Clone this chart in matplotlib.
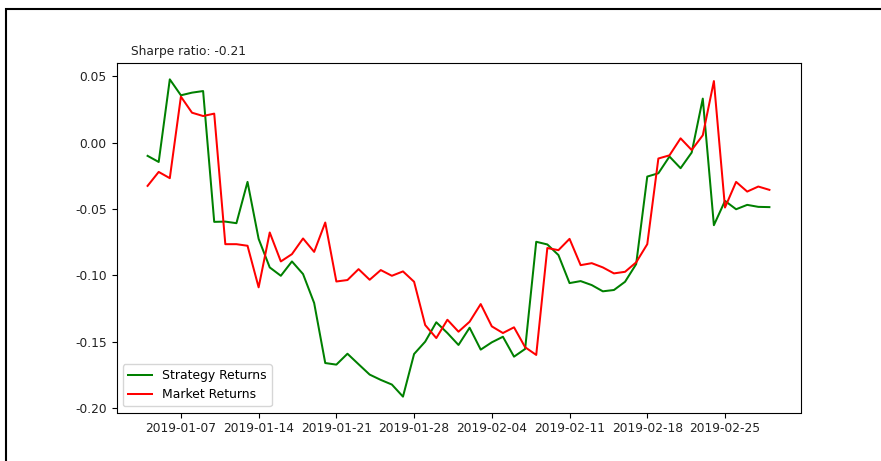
#
# plot.py
#   - Strategy vs market cumulative returns, Jan-Mar 2019.
#

import numpy as np
import pandas as pd
import matplotlib
matplotlib.use("Agg")
import matplotlib.pyplot as plt
import matplotlib.dates as mdates
from matplotlib.patches import Rectangle

dates = pd.date_range("2019-01-04", "2019-03-01", freq="D")

strategy_returns = [
    -0.0100, -0.0146, 0.0476, 0.0356, 0.0376, 0.0388, -0.0597, -0.0595,
    -0.0607, -0.0296, -0.0725, -0.0940, -0.1003, -0.0895, -0.0990, -0.1208,
    -0.1660, -0.1672, -0.1590, -0.1669, -0.1747, -0.1787, -0.1822, -0.1913,
    -0.1592, -0.1499, -0.1353, -0.1434, -0.1524, -0.1394, -0.1559, -0.1504,
    -0.1462, -0.1612, -0.1554, -0.0747, -0.0767, -0.0847, -0.1058, -0.1043,
    -0.1073, -0.1120, -0.1110, -0.1048, -0.0915, -0.0256, -0.0231, -0.0105,
    -0.0193, -0.0075, 0.0331, -0.0622, -0.0439, -0.0502, -0.0469, -0.0484,
    -0.0486,
]

market_returns = [
    -0.0326, -0.0221, -0.0268, 0.0346, 0.0225, 0.0200, 0.0218, -0.0765,
    -0.0765, -0.0777, -0.1090, -0.0677, -0.0895, -0.0840, -0.0722, -0.0823,
    -0.0602, -0.1046, -0.1035, -0.0953, -0.1033, -0.0960, -0.1003, -0.0970,
    -0.1048, -0.1374, -0.1472, -0.1334, -0.1424, -0.1349, -0.1216, -0.1384,
    -0.1434, -0.1391, -0.1541, -0.1599, -0.0794, -0.0810, -0.0725, -0.0923,
    -0.0908, -0.0940, -0.0985, -0.0973, -0.0902, -0.0765, -0.0120, -0.0096,
    0.0032, -0.0056, 0.0055, 0.0463, -0.0489, -0.0296, -0.0369, -0.0331,
    -0.0356,
]

sharpe_ratio = -0.21


def main():
    W, H = 881, 461
    fig = plt.figure(figsize=(W / 100, H / 100), dpi=100)
    ax = fig.add_axes([116.5 / W, 1 - 412.5 / H, 684 / W, 349 / H])

    ax.plot(dates, strategy_returns, color="green", lw=1.45, label="Strategy Returns")
    ax.plot(dates, market_returns, color="red", lw=1.45, label="Market Returns")

    ax.xaxis.set_major_locator(mdates.WeekdayLocator(byweekday=mdates.MO))
    ax.xaxis.set_major_formatter(mdates.DateFormatter("%Y-%m-%d"))
    ax.set_yticks([0.05, 0.0, -0.05, -0.10, -0.15, -0.20])
    ax.yaxis.set_major_formatter(matplotlib.ticker.FormatStrFormatter("%.2f"))
    ax.tick_params(labelsize=8.8, labelcolor="#222222")

    ax.text(0.021, 1.025, "Sharpe ratio: {}".format(sharpe_ratio),
            transform=ax.transAxes, fontsize=8.8, va="baseline", ha="left",
            color="#222222")
    ax.legend(loc="lower left", fontsize=8.9)

    # screenshot frame round the figure
    fig.add_artist(Rectangle((5.5 / W, -0.1), 1.2, 1.1 - 9.5 / H, fill=False,
                             ec="black", lw=1.5, transform=fig.transFigure))

    fig.savefig("out.png", dpi=100)


if __name__ == "__main__":
    main()
